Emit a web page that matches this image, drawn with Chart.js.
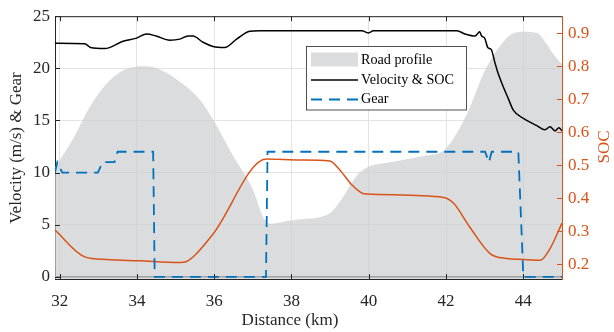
<!DOCTYPE html>
<html>
<head>
<meta charset="utf-8">
<script src="https://cdn.jsdelivr.net/npm/chart.js@4.4.0/dist/chart.umd.min.js"></script>
<style>
  html, body { margin: 0; padding: 0; background: #fff; }
  #wrap { width: 614px; height: 332px; }
</style>
</head>
<body>
<div id="wrap"><canvas id="chart" width="614" height="332"></canvas></div>
<script>
// Perfil da estrada (escala da esquerda)
var roadKm  = [31.88, 32.34, 32.78, 33.21, 33.64, 34.25, 34.59, 35.19, 35.63, 35.97, 36.49, 37.0, 37.27, 37.48, 37.96, 38.22, 38.99, 39.25, 39.69, 39.95, 40.55, 41.41, 41.93, 42.28, 42.62, 42.97, 43.31, 43.66, 44.0, 44.35, 44.61, 44.77, 45.0];
var roadVal = [10.5, 13.2, 16.3, 18.5, 19.8, 20.2, 19.9, 18.5, 17.0, 15.1, 11.6, 8.4, 5.7, 5.1, 5.4, 5.5, 6.1, 7.2, 9.7, 10.5, 11.0, 11.6, 12.1, 13.8, 16.3, 19.5, 21.7, 23.2, 23.5, 23.4, 22.3, 21.4, 20.4];

// Velocidade (m/s)
var velKm  = [31.88, 32.65, 32.8, 33.17, 33.64, 33.99, 34.25, 34.5, 34.85, 35.11, 35.32, 35.45, 35.71, 35.97, 36.27, 36.58, 36.92, 37.18, 39.82, 39.99, 40.12, 42.28, 42.49, 42.75, 42.87, 42.92, 43.0, 43.08, 43.17, 43.26, 43.34, 43.43, 43.61, 43.74, 44.0, 44.35, 44.56, 44.69, 44.82, 44.92, 45.0];
var velVal = [22.4, 22.35, 22.0, 21.9, 22.6, 22.9, 23.3, 23.1, 22.7, 22.8, 23.1, 23.1, 22.5, 22.1, 22.0, 22.8, 23.55, 23.6, 23.6, 23.4, 23.6, 23.6, 23.3, 23.1, 23.5, 23.1, 22.9, 22.0, 21.8, 20.6, 19.6, 18.7, 17.1, 16.0, 15.2, 14.5, 14.1, 14.4, 14.0, 14.3, 14.0];

// SOC (escala da direita)
var socKm  = [31.88, 32.65, 33.21, 34.07, 35.11, 35.28, 35.5, 35.97, 37.35, 38.22, 38.99, 39.25, 39.56, 39.82, 39.95, 41.93, 42.19, 42.62, 43.14, 43.57, 44.0, 44.44, 44.69, 45.0];
var socVal = [0.304, 0.223, 0.215, 0.211, 0.206, 0.209, 0.228, 0.292, 0.519, 0.516, 0.513, 0.486, 0.441, 0.416, 0.413, 0.403, 0.386, 0.312, 0.233, 0.218, 0.215, 0.213, 0.248, 0.325];

// Marcha
var gearKm  = [31.88, 31.94, 32.07, 32.99, 33.11, 33.42, 33.5, 34.42, 34.46, 37.34, 37.38, 43.01, 43.11, 43.18, 43.87, 44.0, 45.0];
var gearVal = [10, 11, 10, 10, 11, 11, 12, 12, 0, 0, 12, 12, 11, 12, 12, 0, 0];

var xTicks   = [32, 34, 36, 38, 40, 42, 44];
var yTicks   = [0, 5, 10, 15, 20, 25];
var socTicks = [0.2, 0.3, 0.4, 0.5, 0.6, 0.7, 0.8, 0.9];

var ORANGE = '#D95319';
var BLUE = '#0072BD';
var DARK = '#262626';
var FONT = 'Liberation Serif, Times New Roman, serif';

function toPoints(xs, ys) {
    return xs.map(function(x, i) { return { x: x, y: ys[i] }; });
}

// Ticks para dentro, borda superior, títulos e legenda (estilo MATLAB)
var axesPlugin = {
    id: 'axesPlugin',
    afterDatasetsDraw: function(chart) {
        var ctx = chart.ctx;
        var a = chart.chartArea;
        var x = chart.scales.x, y = chart.scales.y, y1 = chart.scales.y1;
        var len = 5;
        ctx.save();
        ctx.lineWidth = 1;
        ctx.strokeStyle = DARK;
        ctx.beginPath();
        xTicks.forEach(function(v) {
            var px = Math.round(x.getPixelForValue(v)) + 0.5;
            ctx.moveTo(px, a.bottom); ctx.lineTo(px, a.bottom - len);
            ctx.moveTo(px, a.top); ctx.lineTo(px, a.top + len);
        });
        yTicks.forEach(function(v) {
            var py = Math.round(y.getPixelForValue(v)) + 0.5;
            ctx.moveTo(a.left, py); ctx.lineTo(a.left + len, py);
        });
        // borda superior
        ctx.moveTo(a.left, a.top + 0.5); ctx.lineTo(a.right, a.top + 0.5);
        ctx.stroke();

        ctx.strokeStyle = ORANGE;
        ctx.beginPath();
        socTicks.forEach(function(v) {
            var py = Math.round(y1.getPixelForValue(v)) + 0.5;
            ctx.moveTo(a.right, py); ctx.lineTo(a.right - len, py);
        });
        ctx.stroke();
        ctx.restore();
    },
    afterDraw: function(chart) {
        var ctx = chart.ctx;
        ctx.save();
        // títulos dos eixos
        ctx.font = '17px ' + FONT;
        ctx.textAlign = 'center';
        ctx.textBaseline = 'middle';
        ctx.fillStyle = DARK;
        ctx.fillText('Distance (km)', 290, 321);

        ctx.save();
        ctx.translate(17, 148);
        ctx.rotate(-Math.PI / 2);
        ctx.fillText('Velocity (m/s) & Gear', 0, 0);
        ctx.restore();

        ctx.save();
        ctx.fillStyle = ORANGE;
        ctx.translate(605, 147);
        ctx.rotate(-Math.PI / 2);
        ctx.fillText('SOC', 0, 0);
        ctx.restore();

        // legenda
        var lx = 306.5, ly = 46.5, lw = 160, lh = 63.5;
        ctx.fillStyle = '#fff';
        ctx.fillRect(lx, ly, lw, lh);
        ctx.strokeStyle = DARK;
        ctx.lineWidth = 0.8;
        ctx.strokeRect(lx, ly, lw, lh);

        ctx.fillStyle = 'rgb(220,221,223)';
        ctx.fillRect(311, 52.5, 47, 14);

        ctx.lineWidth = 1.5;
        ctx.strokeStyle = '#000';
        ctx.beginPath(); ctx.moveTo(311, 80); ctx.lineTo(358, 80); ctx.stroke();

        ctx.strokeStyle = BLUE;
        ctx.lineWidth = 1.8;
        ctx.setLineDash([11, 7]);
        ctx.beginPath(); ctx.moveTo(311, 99.5); ctx.lineTo(358, 99.5); ctx.stroke();
        ctx.setLineDash([]);

        ctx.font = '14.2px ' + FONT;
        ctx.textAlign = 'left';
        ctx.fillStyle = '#000';
        ctx.fillText('Road profile', 361, 60);
        ctx.fillText('Velocity & SOC', 361, 80);
        ctx.fillText('Gear', 361, 99.5);
        ctx.restore();
    }
};

var ctx = document.getElementById('chart').getContext('2d');
new Chart(ctx, {
    type: 'line',
    data: {
        datasets: [{
            label: 'Road profile',
            data: toPoints(roadKm, roadVal),
            yAxisID: 'y',
            borderWidth: 0,
            backgroundColor: 'rgba(205,206,209,0.72)',
            fill: 'start',
            pointRadius: 0,
            cubicInterpolationMode: 'monotone',
            order: 4
        }, {
            label: 'SOC',
            data: toPoints(socKm, socVal),
            yAxisID: 'y1',
            borderColor: ORANGE,
            borderWidth: 1.5,
            pointRadius: 0,
            fill: false,
            cubicInterpolationMode: 'monotone',
            order: 3
        }, {
            label: 'Velocity & SOC',
            data: toPoints(velKm, velVal),
            yAxisID: 'y',
            borderColor: '#000',
            borderWidth: 1.5,
            pointRadius: 0,
            fill: false,
            cubicInterpolationMode: 'monotone',
            order: 2
        }, {
            label: 'Gear',
            data: toPoints(gearKm, gearVal),
            yAxisID: 'y',
            borderColor: BLUE,
            borderWidth: 1.8,
            borderDash: [11, 7],
            pointRadius: 0,
            fill: false,
            tension: 0,
            order: 1
        }]
    },
    options: {
        responsive: false,
        animation: false,
        layout: { padding: { top: 12, left: 0, right: 0, bottom: 0 } },
        plugins: {
            legend: { display: false },
            tooltip: { enabled: false }
        },
        scales: {
            x: {
                type: 'linear',
                min: 31.88,
                max: 45.0,
                afterBuildTicks: function(s) { s.ticks = xTicks.map(function(v) { return { value: v }; }); },
                afterFit: function(s) { s.height = 53; },
                grid: { color: '#e3e3e3', drawTicks: false },
                border: { color: DARK, width: 1 },
                ticks: { color: DARK, font: { family: FONT, size: 17 }, padding: 12, maxRotation: 0 }
            },
            y: {
                position: 'left',
                min: -0.2,
                max: 25,
                afterBuildTicks: function(s) { s.ticks = yTicks.map(function(v) { return { value: v }; }); },
                afterFit: function(s) { s.width = 55; },
                grid: {
                    drawTicks: false,
                    color: function(c) { return c.tick && c.tick.value === 0 ? DARK : '#e3e3e3'; },
                    lineWidth: function(c) { return c.tick && c.tick.value === 0 ? 1.6 : 1; }
                },
                border: { color: DARK, width: 1 },
                ticks: { color: DARK, font: { family: FONT, size: 17 }, padding: 5 }
            },
            y1: {
                position: 'right',
                min: 0.156,
                max: 0.9515,
                afterBuildTicks: function(s) { s.ticks = socTicks.map(function(v) { return { value: v }; }); },
                afterFit: function(s) { s.width = 52; },
                grid: { drawOnChartArea: false, drawTicks: false },
                border: { color: ORANGE, width: 1 },
                ticks: {
                    color: ORANGE,
                    font: { family: FONT, size: 17 },
                    padding: 6,
                    callback: function(v) { return v.toFixed(1); }
                }
            }
        }
    },
    plugins: [axesPlugin]
});
</script>
</body>
</html>
